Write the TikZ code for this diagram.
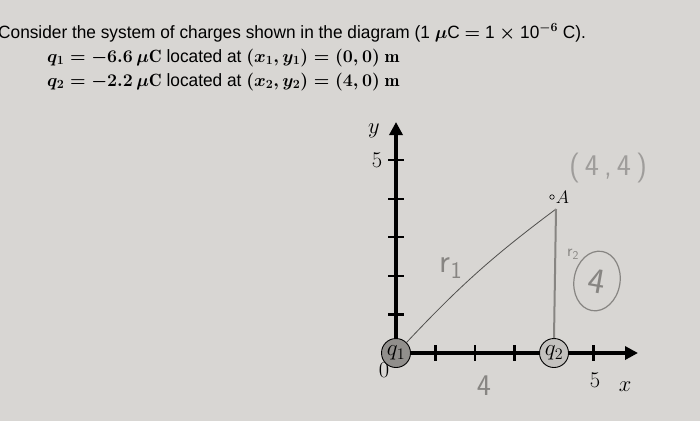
\RequirePackage{fix-cm}
\documentclass[tikz,border=0pt]{standalone}
\usepackage{amsmath,amssymb}
\usepackage{fontspec}
\usetikzlibrary{arrows.meta,positioning,shapes.geometric}
\newfontfamily\printfont{Liberation Sans}[FakeStretch=0.97]
\definecolor{paper}{RGB}{216,214,211}
\definecolor{pencil}{RGB}{135,133,130}
\definecolor{lead}{RGB}{80,79,77}
\definecolor{chargeA}{RGB}{145,143,140}
\definecolor{chargeB}{RGB}{196,194,191}
\tikzset{
axis/.style={line width=3.6pt,-{Triangle[length=13pt,width=13pt]}},
axistick/.style={line width=2.2pt},
charge/.style={
  circle,draw,line width=0.9pt,
  minimum size=29pt,inner sep=0pt,
  font=\fontsize{23}{23}\selectfont
},
axislabel/.style={font=\fontsize{22.5}{22.5}\selectfont,inner sep=0pt},
hand/.style={pencil,font=\sffamily\fontsize{30}{30}\selectfont,inner sep=0pt},
printline/.style={anchor=base west,inner sep=0pt,font=\printfont\boldmath\fontsize{17.8}{21}\selectfont}
}
\begin{document}
\begin{tikzpicture}[x=1pt,y=-1pt]
\fill[paper] (0,0) rectangle (700,421);
\useasboundingbox (0,0) rectangle (700,421);
% the statement
\node[printline] (line1) at (-2,38) {Consider the system of charges shown in the diagram (1 $\mu$C $=$ 1 $\times$ 10$^{-6}$ C).};
\node[printline] (line2) at (47,62) {$q_1=-6.6\,\mu\mathrm{C}$ located at $(x_1,y_1)=(0,0)\ \mathrm{m}$};
\node[printline] (line3) at (47,86) {$q_2=-2.2\,\mu\mathrm{C}$ located at $(x_2,y_2)=(4,0)\ \mathrm{m}$};
% the axes
\coordinate (O) at (396,353);
\coordinate (ybot) at (396,366);
\coordinate (ytop) at (396,122);
\coordinate (xbot) at (388,353);
\coordinate (xtop) at (638,353);
\draw[axis] (ybot) -- (ytop);
\draw[axis] (xbot) -- (xtop);
\foreach \k in {1,...,5}
{
  \draw[axistick] ([xshift=-8pt]O) ++(0,-38.6*\k) -- ++(16,0);
}
\foreach \k in {1,2,3,5}
{
  \draw[axistick] ([yshift=8pt]O) ++(39.5*\k,0) -- ++(0,16);
}
\node[axislabel] (ylab) at (374,131) {$y$};
\node[axislabel] (yfive) at (377,160) {5};
\node[axislabel] (zero) at (384,370) {0};
\node[axislabel] (xfive) at (595,380) {5};
\node[axislabel] (xlab) at (625,387) {$x$};
% the charges and the point
\node[charge,fill=chargeA] (q1) at (O) {$q_1$};
\node[charge,fill=chargeB] (q2) at (554,353) {$q_2$};
\node[circle,draw,line width=0.6pt,minimum size=4.5pt,inner sep=0pt] (A) at (552,197) {};
\node[axislabel,font=\fontsize{18}{18}\selectfont,right=1pt of A] (Alab) {$A$};
% the pencil work
\coordinate (Afoot) at (556,209);
\draw[lead,line width=0.8pt] (q1.45) to[bend left=5] (Afoot);
\draw[pencil,line width=2pt] (Afoot) -- (q2.north);
\node[hand,pencil!80] (Acoord) at (608,168) {(\,4\,,\,4\,)};
\node[hand,font=\sffamily\fontsize{34}{34}\selectfont] (rOne) at (451,268) {r$_{\mathsf{1}}$};
\node[hand,font=\sffamily\fontsize{17}{17}\selectfont] (rTwo) at (573,254) {r$_{\mathsf{2}}$};
\node[hand,ellipse,draw=pencil,line width=1.2pt,minimum width=46pt,minimum height=60pt,rotate=-10,font=\sffamily\fontsize{36}{36}\selectfont] (rTwoVal) at (597,281) {4};
\node[hand] (base) at (484,386) {4};
\end{tikzpicture}
\end{document}
